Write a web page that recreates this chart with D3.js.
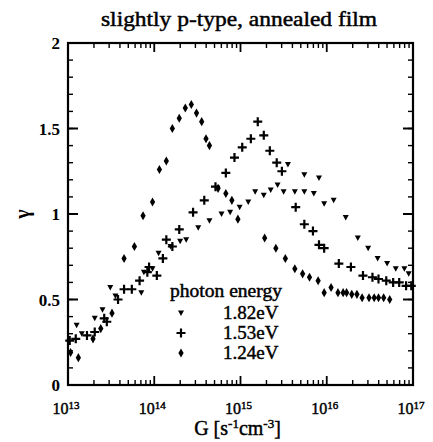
<!DOCTYPE html>
<html>
<head>
<meta charset="utf-8">
<script src="https://cdn.jsdelivr.net/npm/d3@7"></script>
<style>
  body { margin: 0; background: #fff; }
  svg { display: block; font-family: "Liberation Serif", "DejaVu Serif", serif; }
  .heavy { stroke: #000; stroke-width: 0.45px; }
</style>
</head>
<body>
<div id="chart"></div>
<script>
// data: [log10 G, gamma]
const s182 = [
  [13.10, 0.35], [13.16, 0.30], [13.31, 0.39], [13.40, 0.44], [13.49, 0.57], [13.55, 0.52],
  [13.85, 0.54], [13.88, 0.66], [13.98, 0.68], [14.05, 0.77], [14.19, 0.81], [14.30, 0.84],
  [14.37, 0.85], [14.51, 0.92], [14.64, 0.96], [14.78, 1.00], [14.88, 1.01], [14.99, 1.04],
  [15.09, 1.07], [15.17, 1.13], [15.27, 1.11], [15.35, 1.14], [15.43, 1.17], [15.50, 1.13],
  [15.55, 1.29], [15.63, 1.13], [15.74, 1.23], [15.74, 1.13], [15.85, 1.12], [15.91, 1.21],
  [15.97, 1.06], [16.08, 1.08], [16.22, 0.98], [16.36, 0.86], [16.48, 0.80], [16.59, 0.74],
  [16.70, 0.71], [16.80, 0.68], [16.90, 0.68], [16.95, 0.65]
];
const s153 = [
  [13.02, 0.26], [13.09, 0.27], [13.22, 0.29], [13.31, 0.31], [13.42, 0.39], [13.45, 0.37],
  [13.58, 0.50], [13.65, 0.56], [13.74, 0.56], [13.83, 0.61], [13.92, 0.66], [13.94, 0.69],
  [14.03, 0.64], [14.10, 0.74], [14.14, 0.85], [14.21, 0.81], [14.29, 0.91], [14.45, 1.01],
  [14.58, 1.08], [14.71, 1.16], [14.83, 1.24], [14.93, 1.33], [15.02, 1.39], [15.12, 1.44],
  [15.20, 1.54], [15.27, 1.46], [15.34, 1.37], [15.42, 1.30], [15.48, 1.25], [15.64, 1.04],
  [15.74, 0.94], [15.84, 0.90], [15.91, 0.82], [15.97, 0.80], [16.14, 0.71], [16.28, 0.69],
  [16.42, 0.64], [16.53, 0.63], [16.60, 0.62], [16.69, 0.61], [16.77, 0.60], [16.84, 0.60],
  [16.92, 0.58], [16.98, 0.58]
];
const s124 = [
  [13.03, 0.19], [13.12, 0.16], [13.29, 0.27], [13.38, 0.33], [13.51, 0.42], [13.65, 0.74],
  [13.77, 0.81], [13.87, 0.99], [13.98, 1.07], [14.06, 1.26], [14.14, 1.31], [14.21, 1.50],
  [14.29, 1.56], [14.36, 1.62], [14.43, 1.64], [14.49, 1.59], [14.55, 1.54], [14.60, 1.44],
  [14.64, 1.40], [14.74, 1.15], [14.83, 1.12], [14.90, 1.08], [14.97, 0.97], [15.28, 0.86],
  [15.41, 0.80], [15.52, 0.74], [15.63, 0.68], [15.72, 0.65], [15.80, 0.63], [15.90, 0.61],
  [15.97, 0.54], [16.05, 0.57], [16.13, 0.54], [16.19, 0.54], [16.23, 0.54], [16.29, 0.53],
  [16.35, 0.53], [16.41, 0.51], [16.49, 0.51], [16.55, 0.51], [16.60, 0.51], [16.66, 0.51],
  [16.73, 0.50]
];
const legendLabels = ["1.82eV", "1.53eV", "1.24eV"];
const xDecades = [13, 14, 15, 16, 17];
const yTicks = [0, 0.5, 1, 1.5, 2];

const W = 433, H = 442;
const m = { left: 68, right: 20, top: 43, bottom: 57 };

const svg = d3.select('#chart').append('svg')
  .attr('width', W).attr('height', H);

const x = d3.scaleLog().domain([1e13, 1e17]).range([m.left, W - m.right]);
const y = d3.scaleLinear().domain([0, 2]).range([H - m.bottom, m.top]);

const x0 = m.left, x1 = W - m.right, y0 = H - m.bottom, y1 = m.top;

// ticks drawn inward on all four sides
const minorX = [];
for (let d = 13; d < 17; d++) for (let k = 2; k <= 9; k++) minorX.push(k * Math.pow(10, d));
const majorX = xDecades.map(d => Math.pow(10, d));
const minorY = d3.range(0, 2.001, 0.1);

const ticks = svg.append('g').attr('stroke', '#000');
function vTick(px, len, w) {
  ticks.append('line').attr('x1', px).attr('x2', px).attr('y1', y0).attr('y2', y0 - len).attr('stroke-width', w);
  ticks.append('line').attr('x1', px).attr('x2', px).attr('y1', y1).attr('y2', y1 + len).attr('stroke-width', w);
}
function hTick(py, len, w) {
  ticks.append('line').attr('y1', py).attr('y2', py).attr('x1', x0).attr('x2', x0 + len).attr('stroke-width', w);
  ticks.append('line').attr('y1', py).attr('y2', py).attr('x1', x1).attr('x2', x1 - len).attr('stroke-width', w);
}
minorX.forEach(v => vTick(x(v), 5, 1.4));
majorX.forEach(v => vTick(x(v), 9, 1.8));
minorY.forEach(v => hTick(y(v), 5, 1.4));
yTicks.forEach(v => hTick(y(v), 10, 2));

svg.append('rect')
  .attr('x', x0).attr('y', y1).attr('width', x1 - x0).attr('height', y0 - y1)
  .attr('fill', 'none').attr('stroke', '#000').attr('stroke-width', 2.2);

// y tick labels
svg.append('g').selectAll('text').data(yTicks).join('text')
  .attr('x', x0 - 8).attr('y', d => y(d) + 6)
  .attr('text-anchor', 'end')
  .attr('font-size', 17).attr('font-weight', 'bold')
  .text(d => d);

// x tick labels (10 with superscript exponent)
const xl = svg.append('g').selectAll('text').data(xDecades).join('text')
  .attr('class', 'heavy')
  .attr('x', d => x(Math.pow(10, d)) - 2).attr('y', y0 + 29)
  .attr('text-anchor', 'middle')
  .attr('font-size', 16);
xl.append('tspan').text('10');
xl.append('tspan').attr('font-size', 11).attr('dy', -5).text(d => d);

// axis titles
const xt = svg.append('text')
  .attr('class', 'heavy')
  .attr('x', (x0 + x1) / 2 - 3).attr('y', H - 7)
  .attr('text-anchor', 'middle').attr('font-size', 20);
xt.append('tspan').text('G [s');
xt.append('tspan').attr('font-size', 13).attr('dy', -7).text('-1');
xt.append('tspan').attr('dy', 7).text('cm');
xt.append('tspan').attr('font-size', 13).attr('dy', -7).text('-3');
xt.append('tspan').attr('dy', 7).text(']');

svg.append('text')
  .attr('transform', `translate(29,${y(1)}) rotate(-90)`)
  .attr('text-anchor', 'middle').attr('font-size', 20).attr('font-weight', 'bold')
  .text('γ');

svg.append('text')
  .attr('class', 'heavy')
  .attr('x', 239).attr('y', 26)
  .attr('text-anchor', 'middle').attr('font-size', 20)
  .attr('textLength', 276).attr('lengthAdjust', 'spacingAndGlyphs')
  .text('slightly p-type, annealed film');

// markers
const tri = 'M-3,-2.5 L3,-2.5 L0,3 Z';
function drawMarker(sel, kind) {
  if (kind === 0) {
    sel.append('path').attr('d', tri).attr('fill', '#000');
  } else if (kind === 1) {
    sel.append('path').attr('d', 'M-4.5,0 H4.5 M0,-4.5 V4.5').attr('stroke', '#000').attr('stroke-width', 2.2).attr('fill', 'none');
  } else {
    sel.append('path').attr('d', d3.symbol(d3.symbolDiamond, 24)()).attr('fill', '#000');
  }
}

[s182, s153, s124].forEach((series, i) => {
  const g = svg.append('g').selectAll('g').data(series).join('g')
    .attr('transform', d => `translate(${x(Math.pow(10, d[0]))},${y(d[1])})`);
  drawMarker(g, i);
});

// legend
svg.append('text')
  .attr('class', 'heavy')
  .attr('x', 226).attr('y', 297)
  .attr('text-anchor', 'middle').attr('font-size', 18)
  .attr('textLength', 112).attr('lengthAdjust', 'spacingAndGlyphs')
  .text('photon energy');
legendLabels.forEach((lab, i) => {
  const ly = 313 + i * 20;
  const g = svg.append('g').attr('transform', `translate(181,${ly})`);
  drawMarker(g, i);
  svg.append('text').attr('class', 'heavy').attr('x', 223).attr('y', ly + 6)
    .attr('font-size', 19).text(lab);
});
</script>
</body>
</html>
